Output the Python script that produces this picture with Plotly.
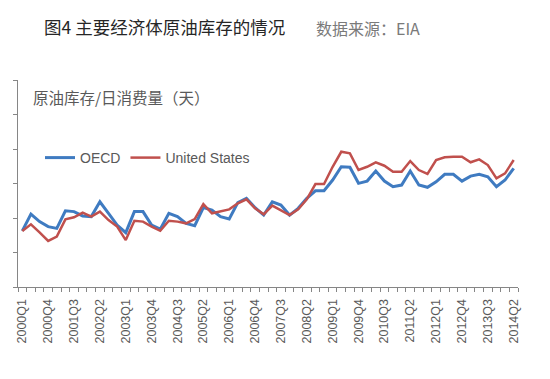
import plotly.graph_objects as go

quarters = [f"{y}Q{q}" for y in range(2000, 2015) for q in range(1, 5)][:58]
tick_labels = quarters[::3]

oecd = [19.25, 20.23, 19.79, 19.50, 19.40, 20.42, 20.37, 20.12, 20.08, 20.94,
        20.27, 19.59, 19.15, 20.37, 20.37, 19.59, 19.35, 20.27, 20.08, 19.69,
        19.55, 20.60, 20.46, 20.08, 19.94, 20.89, 21.14, 20.60, 20.17, 20.94,
        20.75, 20.17, 20.56, 21.14, 21.58, 21.58, 22.20, 22.97, 22.94, 22.01,
        22.14, 22.72, 22.14, 21.81, 21.91, 22.72, 21.91, 21.78, 22.10, 22.53,
        22.53, 22.14, 22.43, 22.53, 22.39, 21.81, 22.20, 22.88]

us = [19.25, 19.63, 19.17, 18.67, 18.92, 19.92, 20.04, 20.31, 20.08, 20.37,
      19.88, 19.50, 18.72, 19.84, 19.79, 19.50, 19.26, 19.84, 19.79, 19.69,
      19.94, 20.81, 20.27, 20.37, 20.50, 20.85, 21.08, 20.56, 20.21, 20.72,
      20.46, 20.17, 20.50, 21.08, 21.97, 21.97, 22.97, 23.84, 23.75, 22.78,
      22.97, 23.23, 23.03, 22.68, 22.68, 23.30, 22.78, 22.55, 23.36, 23.52,
      23.55, 23.55, 23.23, 23.40, 23.07, 22.30, 22.59, 23.36]

W, H = 550, 379
OFF = 8  # page body margin
# target plot area in page pixels: x 18..518, y 80..287
L = 18 - OFF
R = (W + OFF) - 518
T = 80 - OFF
B = (H + OFF) - 287
PW = W - L - R
PH = H - T - B


def px(x):
    return (x - OFF - L) / PW


def py(y):
    return (H + OFF - B - y) / PH


fig = go.Figure()
fig.add_trace(go.Scatter(x=quarters, y=oecd, mode="lines", name="OECD",
                         line=dict(color="#3F7BC1", width=3)))
fig.add_trace(go.Scatter(x=quarters, y=us, mode="lines", name="United States",
                         line=dict(color="#C0504D", width=2.5)))

ticktext = [q if q in tick_labels else "" for q in quarters]

fig.update_layout(
    width=W, height=H,
    margin=dict(l=L, r=R, t=T, b=B, autoexpand=False),
    paper_bgcolor="white", plot_bgcolor="white",
    font=dict(family="Liberation Sans, Arial, sans-serif", color="#595959"),
    showlegend=True,
    legend=dict(orientation="h", x=px(40), y=py(158),
                xanchor="left", yanchor="middle",
                font=dict(size=14, color="#595959"), bgcolor="rgba(0,0,0,0)",
                itemwidth=30, tracegroupgap=0),
    xaxis=dict(type="category", categoryorder="array", categoryarray=quarters,
               range=[-0.5, 57.5], tickmode="array", tickvals=quarters, ticktext=ticktext,
               tickson="boundaries", ticks="outside", ticklen=4, tickcolor="#868686",
               tickangle=-90, tickfont=dict(size=12.5, color="#595959"),
               ticklabelstandoff=6,
               showline=True, linecolor="#868686", linewidth=1, showgrid=False,
               zeroline=False, automargin=False),
    yaxis=dict(range=[16, 28], dtick=2, tick0=16, ticks="outside", ticklen=4,
               tickcolor="#868686", showticklabels=False, showline=True,
               linecolor="#868686", linewidth=1, showgrid=False, zeroline=False,
               automargin=False),
)

fig.add_annotation(xref="paper", yref="paper", x=px(31), y=py(97),
                   xanchor="left", yanchor="middle",
                   text="原油库存/日消费量（天）", showarrow=False,
                   font=dict(size=15.5, color="#595959",
                             family="Noto Sans CJK SC, sans-serif"))

fig.add_annotation(xref="paper", yref="paper", x=px(42), y=py(27),
                   xanchor="left", yanchor="middle",
                   text="图4 主要经济体原油库存的情况", showarrow=False,
                   font=dict(size=17.5, color="#262626",
                             family="Noto Sans CJK SC, sans-serif"))

fig.add_annotation(xref="paper", yref="paper", x=px(314), y=py(28),
                   xanchor="left", yanchor="middle",
                   text="数据来源：EIA", showarrow=False,
                   font=dict(size=16, color="#7a7a7a",
                             family="Noto Sans CJK SC, sans-serif"))

fig.write_html("out.html")
